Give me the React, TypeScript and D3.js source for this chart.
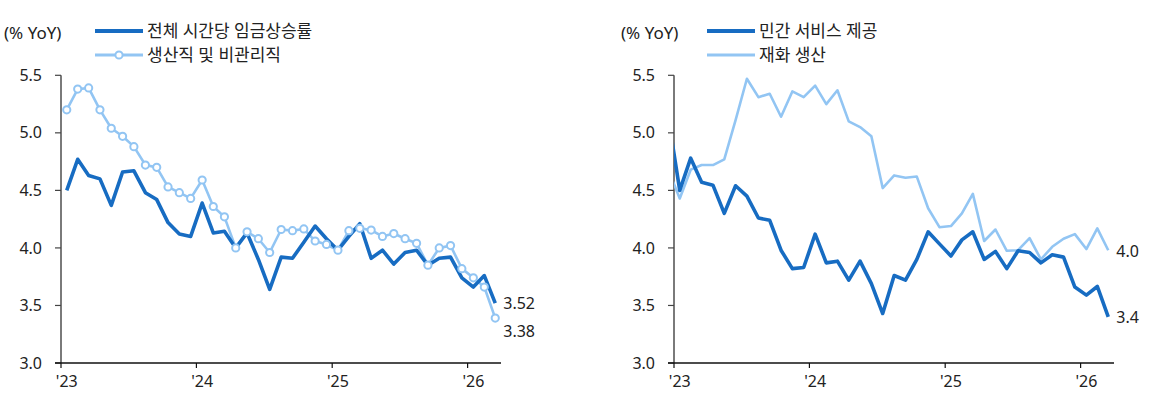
import React from "react";
import * as d3 from "d3";

// ---------- data ----------
const monthsLeft = d3.timeMonth.range(new Date(2023, 0, 1), new Date(2026, 3, 1)); // Jan'23..Mar'26
const monthsRight = d3.timeMonth.range(new Date(2022, 11, 1), new Date(2026, 3, 1)); // Dec'22..Mar'26

const wageTotal = [4.50, 4.77, 4.63, 4.60, 4.37, 4.66, 4.67, 4.48, 4.42, 4.22, 4.12, 4.10,
  4.39, 4.13, 4.145, 4.00, 4.13, 3.90, 3.64, 3.92, 3.91, 4.05, 4.19, 4.08,
  3.98, 4.10, 4.21, 3.91, 3.98, 3.86, 3.96, 3.98, 3.85, 3.91, 3.92, 3.74,
  3.66, 3.76, 3.52];
const wageProd = [5.20, 5.38, 5.39, 5.20, 5.04, 4.97, 4.88, 4.72, 4.70, 4.53, 4.48, 4.43,
  4.59, 4.36, 4.27, 4.00, 4.14, 4.08, 3.96, 4.16, 4.15, 4.165, 4.06, 4.03,
  3.98, 4.15, 4.17, 4.155, 4.10, 4.125, 4.08, 4.04, 3.85, 4.00, 4.02, 3.82,
  3.74, 3.66, 3.39];

const services = [5.14, 4.50, 4.78, 4.57, 4.545, 4.30, 4.54, 4.45, 4.26, 4.24, 3.98, 3.82, 3.83,
  4.12, 3.87, 3.885, 3.72, 3.885, 3.69, 3.43, 3.76, 3.72, 3.90, 4.14, 4.035,
  3.93, 4.07, 4.14, 3.90, 3.97, 3.82, 3.975, 3.96, 3.87, 3.94, 3.92, 3.66,
  3.59, 3.665, 3.40];
const goods = [4.68, 4.43, 4.68, 4.72, 4.72, 4.77, 5.11, 5.47, 5.31, 5.34, 5.14, 5.36, 5.31,
  5.41, 5.25, 5.37, 5.10, 5.05, 4.97, 4.52, 4.63, 4.61, 4.62, 4.345, 4.18,
  4.19, 4.30, 4.47, 4.06, 4.16, 3.975, 3.98, 4.085, 3.90, 4.01, 4.08, 4.12,
  3.99, 4.17, 3.98];

const yTicks = [3.0, 3.5, 4.0, 4.5, 5.0, 5.5];
const yearTicks = [new Date(2023, 0, 1), new Date(2024, 0, 1), new Date(2025, 0, 1), new Date(2026, 0, 1)];
const yearLabels = ["'23", "'24", "'25", "'26"];

const leftLegend = ["전체 시간당 임금상승률", "생산직 및 비관리직"];
const rightLegend = ["민간 서비스 제공", "재화 생산"];
const unitLabel = "(% YoY)";
const leftEndLabels = ["3.52", "3.38"];
const rightEndLabels = ["3.4", "4.0"];

// ---------- styles ----------
const DARK = "#176cc2";
const LIGHT = "#92c5f3";
const FONT = "'Noto Sans', 'Noto Sans CJK KR', sans-serif";
const TXT = "#222";

type PanelProps = {
  x0: number;
  months: Date[];
  darkVals: number[];
  lightVals: number[];
  markers: boolean;
  legend: string[];
  endLabels: string[];
  endDy: number[];
  unitX: number;
  legendX: number;
  id: string;
};

function Panel(p: PanelProps) {
  const W = 440;
  const start = new Date(2023, 0, 1);
  const end = new Date(2026, 3, 1);
  const x = d3.scaleTime().domain([start, end]).range([p.x0, p.x0 + W]);
  const y = d3.scaleLinear().domain([3.0, 5.5]).range([363, 75.3]);
  const mid = (d: Date) => {
    const a = +x(d);
    const b = +x(d3.timeMonth.offset(d, 1));
    return (a + b) / 2;
  };
  const line = d3
    .line<number>()
    .x((_, i) => mid(p.months[i]))
    .y((v) => y(v));
  const axisEnd = p.x0 + W;
  const n = p.months.length;
  const lastX = mid(p.months[n - 1]);

  return (
    <g>
      <defs>
        <clipPath id={`clip-${p.id}`}>
          <rect x={p.x0} y={0} width={W + 20} height={400} />
        </clipPath>
      </defs>
      {/* unit */}
      <text x={p.unitX} y={33} dy="0.35em" fontSize={17} fill={TXT} fontFamily={FONT}>{unitLabel}</text>
      {/* legend */}
      <line x1={p.legendX} x2={p.legendX + 48} y1={31} y2={31} stroke={DARK} strokeWidth={4} />
      <text x={p.legendX + 52} y={31} dy="0.35em" fontSize={17} fill={TXT} fontFamily={FONT}>{p.legend[0]}</text>
      <line x1={p.legendX} x2={p.legendX + 48} y1={55} y2={55} stroke={LIGHT} strokeWidth={3} />
      {p.markers && <circle cx={p.legendX + 24} cy={55} r={3.6} fill="#fff" stroke={LIGHT} strokeWidth={2} />}
      <text x={p.legendX + 52} y={55} dy="0.35em" fontSize={17} fill={TXT} fontFamily={FONT}>{p.legend[1]}</text>

      {/* y axis */}
      <line x1={p.x0} x2={p.x0} y1={y(5.5)} y2={y(3.0)} stroke="#7a7a7a" strokeWidth={2} />
      {yTicks.map((t) => (
        <g key={t}>
          <line x1={p.x0 - 6} x2={p.x0} y1={y(t)} y2={y(t)} stroke="#444" strokeWidth={1.2} />
          <text x={p.x0 - 19} y={y(t)} dy="0.35em" textAnchor="end" fontSize={16} fill={TXT} fontFamily={FONT}>
            {t.toFixed(1)}
          </text>
        </g>
      ))}
      {/* x axis */}
      <line x1={p.x0 - 6} x2={axisEnd} y1={y(3.0)} y2={y(3.0)} stroke="#111" strokeWidth={1.5} />
      {yearTicks.map((d, i) => (
        <g key={i}>
          <line x1={x(d)} x2={x(d)} y1={y(3.0)} y2={y(3.0) + 5} stroke="#111" strokeWidth={1.2} />
          <text x={mid(d)} y={387} textAnchor="middle" fontSize={16} fill={TXT} fontFamily={FONT}>
            {yearLabels[i]}
          </text>
        </g>
      ))}

      {/* series */}
      <g clipPath={`url(#clip-${p.id})`}>
        <path d={line(p.lightVals) || ""} fill="none" stroke={LIGHT} strokeWidth={2.6} strokeLinejoin="round" />
        <path d={line(p.darkVals) || ""} fill="none" stroke={DARK} strokeWidth={3.6} strokeLinejoin="round" />
        {p.markers &&
          p.lightVals.map((v, i) => (
            <circle key={i} cx={mid(p.months[i])} cy={y(v)} r={3.6} fill="#fff" stroke={LIGHT} strokeWidth={2} />
          ))}
      </g>

      {/* end labels */}
      <text x={lastX + 8} y={y(p.darkVals[n - 1]) + p.endDy[0]} dy="0.35em" fontSize={16} fill={TXT} fontFamily={FONT}>
        {p.endLabels[0]}
      </text>
      <text x={lastX + 8} y={y(p.lightVals[n - 1]) + p.endDy[1]} dy="0.35em" fontSize={16} fill={TXT} fontFamily={FONT}>
        {p.endLabels[1]}
      </text>
    </g>
  );
}

export default function App() {
  return (
    <svg
      width={1156}
      height={400}
      style={{ position: "absolute", left: 0, top: 0, background: "#fff" }}
    >
      <rect x={0} y={0} width={1156} height={400} fill="#fff" />
      <Panel
        id="l"
        x0={61}
        months={monthsLeft}
        darkVals={wageTotal}
        lightVals={wageProd}
        markers={true}
        legend={leftLegend}
        endLabels={leftEndLabels}
        endDy={[0, 13]}
        unitX={4}
        legendX={95}
      />
      <Panel
        id="r"
        x0={674}
        months={monthsRight}
        darkVals={services}
        lightVals={goods}
        markers={false}
        legend={rightLegend}
        endLabels={rightEndLabels}
        endDy={[0, 1]}
        unitX={621}
        legendX={707}
      />
    </svg>
  );
}
